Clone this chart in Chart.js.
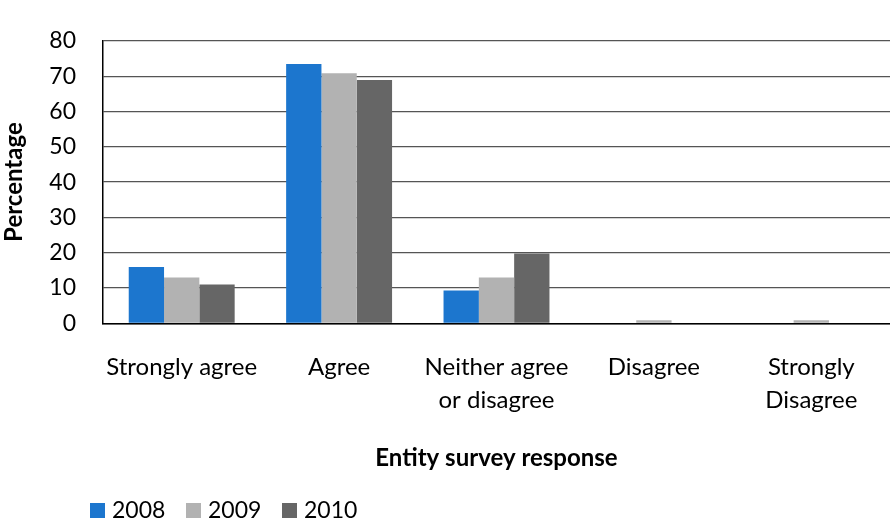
<!DOCTYPE html>
<html lang="en">
<head>
  <meta charset="UTF-8">
  <title>Entity survey response</title>
  <script src="https://cdn.jsdelivr.net/npm/chart.js"></script>
  <style>
    html, body { margin: 0; padding: 0; background: #fff; }
    .wrap { width: 890px; height: 524px; position: relative; }
  </style>
</head>
<body>
  <div class="wrap">
    <canvas id="surveyChart"></canvas>
  </div>

  <script>
    // Chart data
    const categories = ['Strongly agree', 'Agree', ['Neither agree', 'or disagree'], 'Disagree', ['Strongly', 'Disagree']];
    const years = ['2008', '2009', '2010'];
    const values2008 = [16, 73.4, 9.3, 0, 0];
    const values2009 = [13, 70.8, 13, 0.9, 0.9];
    const values2010 = [11, 68.9, 19.8, 0, 0];
    const barColors = ['#1c76ce', '#b2b2b2', '#666666'];
    const yTicks = [0, 10, 20, 30, 40, 50, 60, 70, 80];

    const FONT = 'Lato, "Liberation Sans", sans-serif';

    // simple legend drawn bottom-left, like the Excel one
    const bottomLegend = {
      id: 'bottomLegend',
      afterDraw(chart) {
        const ctx = chart.ctx;
        ctx.save();
        ctx.font = '23px ' + FONT;
        ctx.textBaseline = 'middle';
        let x = 90;
        chart.data.datasets.forEach(ds => {
          ctx.fillStyle = ds.backgroundColor;
          ctx.fillRect(x, 503, 15, 15);
          ctx.fillStyle = '#000';
          ctx.fillText(ds.label, x + 22, 511);
          x += 96;
        });
        ctx.restore();
      }
    };

    new Chart(document.getElementById('surveyChart'), {
      type: 'bar',
      data: {
        labels: categories,
        datasets: [
          { label: years[0], data: values2008, backgroundColor: barColors[0] },
          { label: years[1], data: values2009, backgroundColor: barColors[1] },
          { label: years[2], data: values2010, backgroundColor: barColors[2] }
        ]
      },
      options: {
        responsive: true,
        maintainAspectRatio: false,
        animation: false,
        layout: { padding: { top: 17, right: 0, bottom: 0, left: 0 } },
        datasets: {
          bar: { categoryPercentage: 0.673, barPercentage: 1.0 }
        },
        plugins: {
          legend: { display: false },
          tooltip: { enabled: false }
        },
        scales: {
          x: {
            grid: { display: false, drawTicks: false },
            border: { display: true, color: '#000', width: 1.5 },
            ticks: {
              color: '#000',
              padding: 28,
              maxRotation: 0,
              autoSkip: false,
              font: { family: FONT, size: 24, lineHeight: 1.35 }
            },
            title: {
              display: true,
              text: 'Entity survey response',
              color: '#000',
              font: { family: FONT, size: 24, weight: 'bold', lineHeight: 1.2 },
              padding: { top: 0, bottom: 51 }
            }
          },
          y: {
            min: 0,
            max: 80,
            afterFit(scale) { scale.width = 103; },
            afterBuildTicks(scale) { scale.ticks = yTicks.map(v => ({ value: v })); },
            grid: { color: '#555555', lineWidth: 1.2, drawTicks: false },
            border: { display: true, color: '#000', width: 1.5 },
            ticks: {
              color: '#000',
              padding: 27,
              font: { family: FONT, size: 23 }
            },
            title: {
              display: true,
              text: 'Percentage',
              color: '#000',
              font: { family: FONT, size: 24, weight: 'bold', lineHeight: 1.2 },
              padding: { top: 0, bottom: 0 }
            }
          }
        }
      },
      plugins: [bottomLegend]
    });
  </script>
</body>
</html>
